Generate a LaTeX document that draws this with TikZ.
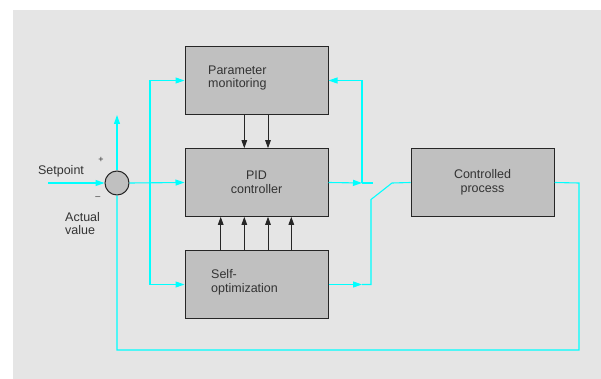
\documentclass[tikz,border=0pt]{standalone}
\usepackage{fontspec}
\setmainfont{Liberation Sans}
\usetikzlibrary{arrows.meta}
\definecolor{bggray}{HTML}{E5E5E5}
\definecolor{boxgray}{HTML}{C0C0C0}
\definecolor{sig}{HTML}{00FFFF}
\definecolor{txt}{HTML}{333333}
\begin{document}
\begin{tikzpicture}[x=1pt,y=-1pt,
  blk/.style={draw=black!85, line width=1pt, fill=boxgray, minimum width=143pt, minimum height=67.5pt, inner sep=0pt, text=txt, align=center, font=\fontsize{12.5}{13.5}\selectfont},
  lbl/.style={text=txt, inner sep=0pt, font=\fontsize{12.5}{13.5}\selectfont},
  small/.style={text=txt, inner sep=0pt, font=\fontsize{9}{10}\selectfont},
  sigline/.style={draw=sig, line width=1.1pt},
  sigarrow/.style={sigline, -{Triangle[length=9pt,width=6pt]}},
  ctl/.style={draw=black!85, line width=1pt, -{Triangle[length=8pt,width=5.5pt]}}
]
\useasboundingbox (0,0) rectangle (601,379);
\fill[bggray] (13,10) rectangle (601,379);

% blocks
\node[blk] (pm) at (256.5,80.5) {};
\node[blk] (pid) at (256.5,182.5) {PID\\controller};
\node[blk] (so) at (256.5,284.5) {};
\node[blk] (cp) at (482.5,182.5) {Controlled\\process};
\node[lbl, anchor=west, align=left] (pmtxt) at (208,78) {Parameter\\monitoring};
\node[lbl, anchor=west, align=left] (sotxt) at (211,282.5) {Self-\\optimization};

% summing junction
\node[draw=black!85, line width=1pt, fill=boxgray, circle, minimum size=24pt, inner sep=0pt] (sum) at (117,183) {};
\node[lbl] (sp) at (61,171) {Setpoint};
\node[lbl, anchor=west, align=left] (av) at (65,223.5) {Actual\\value};
\node[small] (plus) at (101,159.5) {+};
\node[small] (minus) at (98,198) {–};

% coordinates
\coordinate (spin) at (48,183);
\coordinate (uptip) at (117,115);
\coordinate (bl) at (117,350);
\coordinate (br) at (579,350);
\coordinate (rr) at (579,183);
\coordinate (vt) at (150,80.5);
\coordinate (vb) at (150,284.5);
\coordinate (jo) at (362,183);
\coordinate (jend) at (373,183);
\coordinate (jt) at (362,80.5);
\coordinate (sj) at (362,284.5);
\coordinate (sc) at (371,284.5);
\coordinate (sd) at (371,199.5);
\coordinate (sw) at (392,183);

% signal lines
\draw[sigarrow] (spin) -- (sum.west);
\draw[sigarrow] (sum.north) -- (uptip);
\draw[sigline] (sum.south) -- (bl) -- (br) -- (rr) -- (cp.east);
\draw[sigarrow] (sum.east) -- (pid.west);
\draw[sigline] (vt) -- (vb);
\draw[sigarrow] (vt) -- (pm.west);
\draw[sigarrow] (vb) -- (so.west);
\draw[sigarrow] (pid.east) -- (jo);
\draw[sigline] (jo) -- (jend);
\draw[sigline] (jo) -- (jt);
\draw[sigarrow] (jt) -- (pm.east);
\draw[sigarrow] (so.east) -- (sj);
\draw[sigline] (sj) -- (sc) -- (sd) -- (sw) -- (cp.west);

% control arrows
\draw[ctl] (pm.south -| 244.3,0) -- (pid.north -| 244.3,0);
\draw[ctl] (pm.south -| 268,0) -- (pid.north -| 268,0);
\foreach \xx in {220.7,244.3,268,291.3}{
  \draw[ctl] (so.north -| \xx,0) -- (pid.south -| \xx,0);
}
\end{tikzpicture}
\end{document}
